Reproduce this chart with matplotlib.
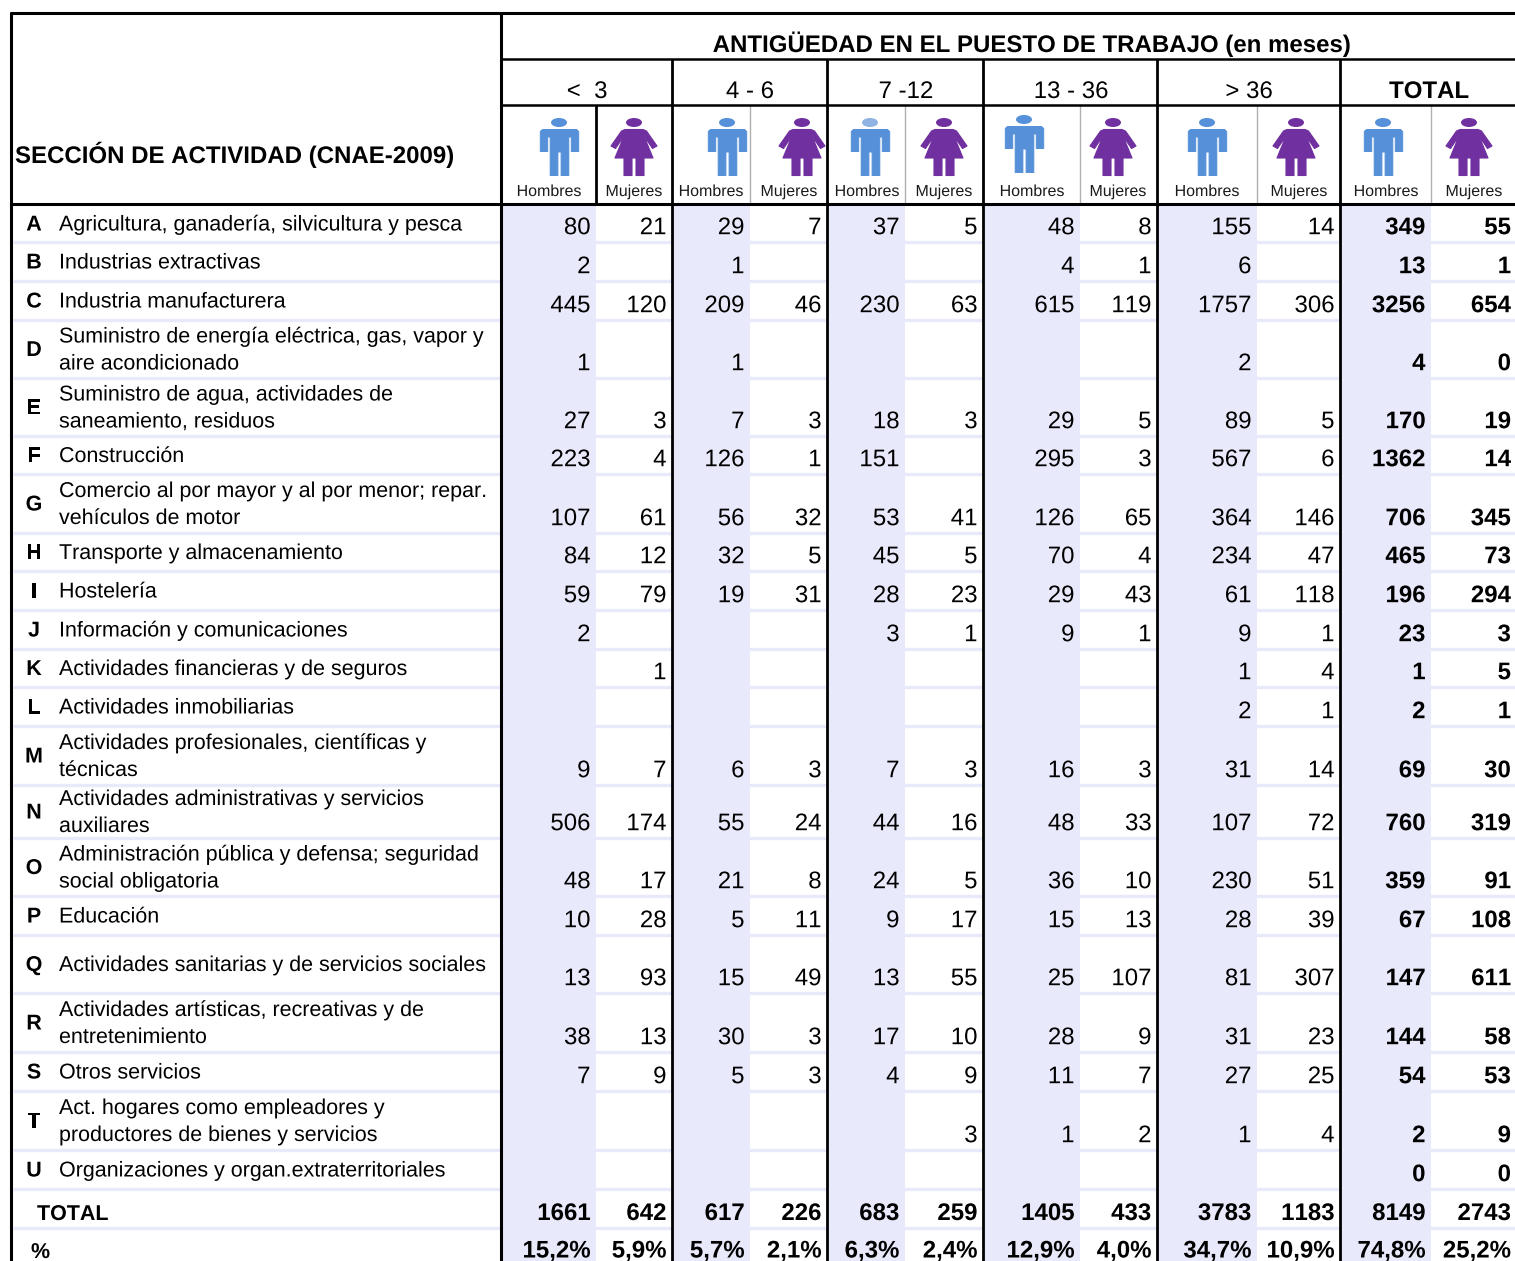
# -*- coding: utf-8 -*-
"""Tabla de antigüedad en el puesto de trabajo por sección de actividad"""

import matplotlib
matplotlib.use('Agg')
import matplotlib.pyplot as plt
import matplotlib.patheffects as pe
from matplotlib.patches import Ellipse, Polygon, Rectangle

plt.rcParams['font.family'] = ['Liberation Sans', 'DejaVu Sans']
plt.rcParams['text.kerning_factor'] = 6
# draw glyphs as outlines so the digits stay on one baseline
plt.rcParams['path.effects'] = [pe.Normal()]

N = None

# Data
letters = list("ABCDEFGHIJKLMNOPQRSTU")
sections = [
    ["Agricultura, ganadería, silvicultura y pesca"],
    ["Industrias extractivas"],
    ["Industria manufacturera"],
    ["Suministro de energía eléctrica, gas, vapor y", "aire acondicionado"],
    ["Suministro de agua, actividades de", "saneamiento, residuos"],
    ["Construcción"],
    ["Comercio al por mayor y al por menor; repar.", "vehículos de motor"],
    ["Transporte y almacenamiento"],
    ["Hostelería"],
    ["Información y comunicaciones"],
    ["Actividades financieras y de seguros"],
    ["Actividades inmobiliarias"],
    ["Actividades profesionales, científicas y", "técnicas"],
    ["Actividades administrativas y servicios", "auxiliares"],
    ["Administración pública y defensa; seguridad", "social obligatoria"],
    ["Educación"],
    ["Actividades sanitarias y de servicios sociales"],
    ["Actividades artísticas, recreativas y de", "entretenimiento"],
    ["Otros servicios"],
    ["Act. hogares como empleadores y", "productores de bienes y servicios"],
    ["Organizaciones y organ.extraterritoriales"],
]

h_lt3 = [80, 2, 445, 1, 27, 223, 107, 84, 59, 2, N, N, 9, 506, 48, 10, 13, 38, 7, N, N]
m_lt3 = [21, N, 120, N, 3, 4, 61, 12, 79, N, 1, N, 7, 174, 17, 28, 93, 13, 9, N, N]
h_4_6 = [29, 1, 209, 1, 7, 126, 56, 32, 19, N, N, N, 6, 55, 21, 5, 15, 30, 5, N, N]
m_4_6 = [7, N, 46, N, 3, 1, 32, 5, 31, N, N, N, 3, 24, 8, 11, 49, 3, 3, N, N]
h_7_12 = [37, N, 230, N, 18, 151, 53, 45, 28, 3, N, N, 7, 44, 24, 9, 13, 17, 4, N, N]
m_7_12 = [5, N, 63, N, 3, N, 41, 5, 23, 1, N, N, 3, 16, 5, 17, 55, 10, 9, 3, N]
h_13_36 = [48, 4, 615, N, 29, 295, 126, 70, 29, 9, N, N, 16, 48, 36, 15, 25, 28, 11, 1, N]
m_13_36 = [8, 1, 119, N, 5, 3, 65, 4, 43, 1, N, N, 3, 33, 10, 13, 107, 9, 7, 2, N]
h_gt36 = [155, 6, 1757, 2, 89, 567, 364, 234, 61, 9, 1, 2, 31, 107, 230, 28, 81, 31, 27, 1, N]
m_gt36 = [14, N, 306, N, 5, 6, 146, 47, 118, 1, 4, 1, 14, 72, 51, 39, 307, 23, 25, 4, N]
h_total = [349, 13, 3256, 4, 170, 1362, 706, 465, 196, 23, 1, 2, 69, 760, 359, 67, 147, 144, 54, 2, 0]
m_total = [55, 1, 654, 0, 19, 14, 345, 73, 294, 3, 5, 1, 30, 319, 91, 108, 611, 58, 53, 9, 0]

totals = [1661, 642, 617, 226, 683, 259, 1405, 433, 3783, 1183, 8149, 2743]
percents = ["15,2%", "5,9%", "5,7%", "2,1%", "6,3%", "2,4%",
            "12,9%", "4,0%", "34,7%", "10,9%", "74,8%", "25,2%"]
groups = ["<  3", "4 - 6", "7 -12", "13 - 36", "> 36", "TOTAL"]

columns = [h_lt3, m_lt3, h_4_6, m_4_6, h_7_12, m_7_12,
           h_13_36, m_13_36, h_gt36, m_gt36, h_total, m_total]

# Layout, in pixels of the picture
col_edges = [501, 596, 672, 750, 827, 905, 983, 1080, 1157, 1257, 1340, 1431, 1516.5]
row_bottoms = [242, 281, 320, 378, 436, 474, 533, 571, 610, 649, 687, 726,
               785, 838, 896, 935, 993, 1052, 1091, 1150, 1189, 1228, 1267]
group_x = [587, 750, 906, 1071, 1249, 1429]
man_x = [559, 727, 870, 1024, 1207, 1383]
woman_x = [634, 802, 944, 1113, 1296, 1469]
hombres_x = [549, 711, 867, 1032, 1207, 1386]
mujeres_x = [634, 789, 944, 1118, 1299, 1474]

PALE = '#e9e9fc'
BLUE = '#5590d8'
PURPLE = '#7030a0'
TXT = 15.45
TXT_HEAD = 17.3
TXT_NUM = 17.3


def draw_man(ax, cx, top, head=BLUE):
    ax.add_patch(Ellipse((cx, top + 4.5), 16, 9, fc=head, ec='none'))
    body = [(-17, 11.5), (17, 11.5), (19.2, 13.5), (19.2, 33.5), (11.8, 33.5), (11.8, 19), (9.3, 19),
            (9.3, 57.5), (1.6, 57.5), (1.6, 34), (-1.6, 34), (-1.6, 57.5), (-9.3, 57.5), (-9.3, 19),
            (-11.8, 19), (-11.8, 33.5), (-19.2, 33.5), (-19.2, 13.5)]
    pts = [(cx + 0.5 + x, top + y) for x, y in body]
    ax.add_patch(Polygon(pts, closed=True, fc=BLUE, ec=BLUE, lw=0.7, joinstyle='round'))


def draw_woman(ax, cx, top):
    ax.add_patch(Ellipse((cx, top + 4.5), 16, 9, fc=PURPLE, ec='none'))
    body = [(-9, 11.5), (9, 11.5), (12.5, 13), (23, 28), (18.5, 30.5), (10, 18), (19, 40), (10, 40),
            (10, 57.5), (2, 57.5), (2, 40), (-2, 40), (-2, 57.5), (-10, 57.5), (-10, 40),
            (-19, 40), (-10, 18), (-18.5, 30.5), (-23, 28), (-12.5, 13)]
    pts = [(cx + x, top + y) for x, y in body]
    ax.add_patch(Polygon(pts, closed=True, fc=PURPLE, ec=PURPLE, lw=0.8, joinstyle='round'))


fig = plt.figure(figsize=(15.15, 12.61), dpi=100)
ax = fig.add_axes([0, 0, 1, 1])
ax.set_xlim(0, 1515)
ax.set_ylim(1261, 0)
ax.axis('off')

# Shaded columns for men, pale rules between rows
for i in range(0, 12, 2):
    ax.add_patch(Rectangle((col_edges[i], 205), col_edges[i + 1] - col_edges[i], 1070,
                           fc=PALE, ec='none', zorder=0))
for b in row_bottoms:
    ax.plot([13, 1515], [b, b], color=PALE, lw=2.4, solid_capstyle='butt', zorder=0.5)

# Grid
black = dict(color='black', solid_capstyle='butt', zorder=3, path_effects=[])
ax.plot([10, 1515], [13, 13], lw=2.2, **black)
ax.plot([11, 11], [12, 1261], lw=2.2, **black)
ax.plot([501, 501], [12, 1261], lw=2.2, **black)
ax.plot([501, 1515], [59, 59], lw=1.8, **black)
ax.plot([501, 1515], [105, 105], lw=1.8, **black)
ax.plot([11, 1515], [204, 204], lw=2.2, **black)
for x in [672, 827, 983, 1157, 1340]:
    ax.plot([x, x], [59, 1261], lw=2, **black)
ax.plot([596, 596], [105, 204], lw=2, **black)
for x in [750, 905, 1080, 1257, 1431]:
    ax.plot([x, x], [105, 204], color='#b0b0b0', lw=1, zorder=2)

# Header
ax.text(1031.5, 52, "ANTIGÜEDAD EN EL PUESTO DE TRABAJO (en meses)", ha='center', va='baseline',
        fontsize=TXT_HEAD, fontweight='bold')
ax.text(15, 163, "SECCIÓN DE ACTIVIDAD (CNAE-2009)", ha='left', va='baseline',
        fontsize=TXT_HEAD, fontweight='bold')
for i, g in enumerate(groups):
    ax.text(group_x[i], 98, g, ha='center', va='baseline', fontsize=17.3,
            fontweight='bold' if g == "TOTAL" else 'normal')
for i in range(6):
    top = 115 if i == 3 else 118
    draw_man(ax, man_x[i], top, head='#8fb4e3' if i == 2 else BLUE)
    draw_woman(ax, woman_x[i], 118)
    ax.text(hombres_x[i], 196, "Hombres", ha='center', va='baseline', fontsize=11.5, color='#1a1a1a')
    ax.text(mujeres_x[i], 196, "Mujeres", ha='center', va='baseline', fontsize=11.5, color='#1a1a1a')

# Section labels
prev = 205
for i, lines in enumerate(sections):
    mid = (prev + row_bottoms[i]) / 2
    ax.text(34, mid + 7, letters[i], ha='center', va='baseline', fontsize=TXT, fontweight='bold')
    if len(lines) == 1:
        ax.text(59, mid + 7, lines[0], ha='left', va='baseline', fontsize=TXT)
    else:
        ax.text(59, mid - 6.5, lines[0], ha='left', va='baseline', fontsize=TXT)
        ax.text(59, mid + 20.5, lines[1], ha='left', va='baseline', fontsize=TXT)
    prev = row_bottoms[i]

# Values
for c, col in enumerate(columns):
    right = col_edges[c + 1] - 5.5
    for r, v in enumerate(col):
        if v is not None:
            ax.text(right, row_bottoms[r] - 7.8, str(v), ha='right', va='baseline', fontsize=TXT_NUM,
                    fontweight='bold' if c >= 10 else 'normal')
    ax.text(right, row_bottoms[21] - 8, str(totals[c]), ha='right', va='baseline', fontsize=TXT_NUM,
            fontweight='bold')
    ax.text(right, 1257.5, percents[c], ha='right', va='baseline', fontsize=TXT_NUM,
            fontweight='bold')

ax.text(37, 1220, "TOTAL", ha='left', va='baseline', fontsize=TXT, fontweight='bold')
ax.text(31, 1258, "%", ha='left', va='baseline', fontsize=TXT, fontweight='bold')

fig.savefig('out.png', dpi=100)
